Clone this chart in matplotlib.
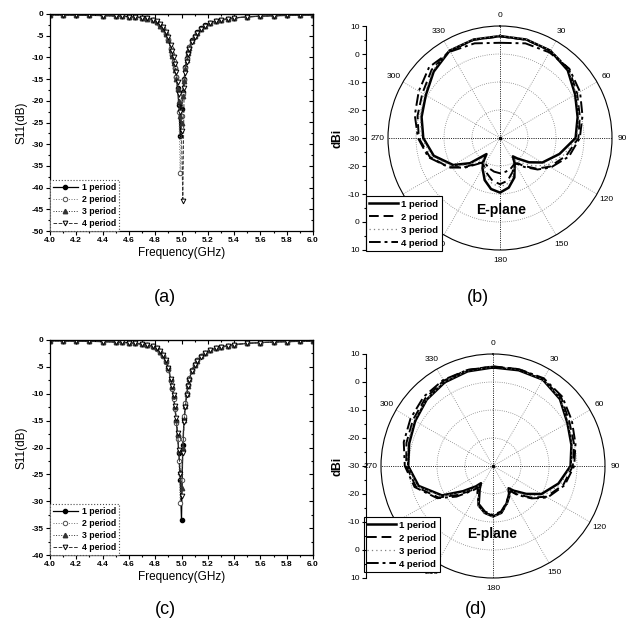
import matplotlib
matplotlib.use('Agg')
import matplotlib.pyplot as plt
import numpy as np
from matplotlib.ticker import MultipleLocator

plt.rcParams['font.family'] = ['Liberation Sans', 'DejaVu Sans']
plt.rcParams['axes.unicode_minus'] = False

W, H = 628, 636

labels = ['1 period', '2 period', '3 period', '4 period']

# ---- S11 data (GHz, dB) ----
freq = [4.0, 4.1, 4.2, 4.3, 4.4, 4.5, 4.55, 4.6, 4.65, 4.7, 4.74, 4.78, 4.81, 4.84, 4.86, 4.88,
        4.9, 4.92, 4.93, 4.94, 4.95, 4.96, 4.97, 4.98, 4.99, 5.0, 5.01, 5.02, 5.03, 5.04, 5.05, 5.06,
        5.08, 5.1, 5.12, 5.15, 5.18, 5.22, 5.26, 5.3, 5.35, 5.4, 5.5, 5.6, 5.7, 5.8, 5.9, 6.0]

a_p1 = [-0.20, -0.22, -0.25, -0.30, -0.36, -0.45, -0.52, -0.60, -0.70, -0.85, -1.00, -1.40, -1.80, -2.60, -3.40, -4.50,
        -6.00, -8.00, -9.50, -11.0, -12.5, -14.5, -17.0, -21.0, -28.0, -22.0, -18.0, -15.0, -12.3, -10.2, -8.7, -7.6,
        -6.1, -5.0, -4.2, -3.3, -2.6, -2.0, -1.6, -1.35, -1.10, -0.90, -0.65, -0.50, -0.40, -0.32, -0.27, -0.23]
a_p2 = [-0.18, -0.20, -0.24, -0.28, -0.34, -0.43, -0.50, -0.58, -0.68, -0.82, -0.98, -1.35, -1.75, -2.50, -3.30, -4.40,
        -5.80, -7.80, -9.30, -10.8, -12.4, -14.6, -17.5, -22.5, -36.7, -23.5, -18.5, -15.3, -12.5, -10.4, -8.9, -7.7,
        -6.2, -5.1, -4.3, -3.4, -2.7, -2.05, -1.65, -1.40, -1.12, -0.92, -0.66, -0.51, -0.41, -0.33, -0.28, -0.24]
a_p3 = [-0.22, -0.24, -0.27, -0.32, -0.38, -0.47, -0.54, -0.63, -0.74, -0.88, -1.05, -1.45, -1.85, -2.65, -3.50, -4.60,
        -6.10, -8.20, -9.70, -11.3, -12.9, -14.9, -17.3, -20.0, -23.5, -25.0, -19.0, -15.5, -12.7, -10.5, -8.9, -7.8,
        -6.2, -5.1, -4.3, -3.35, -2.65, -2.05, -1.62, -1.37, -1.12, -0.92, -0.66, -0.51, -0.41, -0.33, -0.28, -0.24]
a_p4 = [-0.19, -0.21, -0.24, -0.29, -0.35, -0.44, -0.50, -0.58, -0.68, -0.82, -0.96, -1.30, -1.70, -2.40, -3.10, -4.10,
        -5.40, -7.20, -8.50, -10.0, -11.5, -13.3, -15.6, -18.5, -22.5, -27.0, -43.2, -17.0, -13.5, -11.0, -9.3, -8.1,
        -6.4, -5.3, -4.4, -3.5, -2.75, -2.1, -1.7, -1.42, -1.15, -0.95, -0.68, -0.52, -0.42, -0.34, -0.28, -0.24]

c_p1 = [-0.15, -0.17, -0.20, -0.24, -0.30, -0.38, -0.44, -0.52, -0.62, -0.78, -0.95, -1.20, -1.55, -2.20, -2.90, -3.90,
        -5.30, -7.50, -8.90, -10.6, -12.6, -15.0, -17.8, -21.0, -26.0, -33.5, -19.5, -14.5, -12.0, -10.0, -8.4, -7.2,
        -5.6, -4.6, -3.8, -3.0, -2.4, -1.9, -1.55, -1.30, -1.05, -0.85, -0.62, -0.48, -0.38, -0.30, -0.25, -0.22]
c_p2 = [-0.16, -0.18, -0.21, -0.25, -0.31, -0.39, -0.45, -0.53, -0.63, -0.80, -0.97, -1.25, -1.60, -2.30, -3.00, -4.00,
        -5.50, -7.70, -9.10, -10.9, -12.9, -15.4, -18.5, -22.5, -30.3, -26.0, -18.5, -14.2, -11.8, -9.9, -8.3, -7.1,
        -5.5, -4.5, -3.75, -2.95, -2.35, -1.85, -1.52, -1.28, -1.03, -0.84, -0.61, -0.47, -0.37, -0.30, -0.25, -0.22]
c_p3 = [-0.15, -0.17, -0.20, -0.24, -0.30, -0.38, -0.44, -0.52, -0.62, -0.78, -0.94, -1.18, -1.52, -2.15, -2.85, -3.85,
        -5.20, -7.30, -8.70, -10.4, -12.4, -14.8, -17.5, -20.5, -24.5, -27.5, -20.0, -14.8, -12.2, -10.1, -8.5, -7.3,
        -5.7, -4.65, -3.85, -3.05, -2.45, -1.92, -1.57, -1.32, -1.06, -0.86, -0.63, -0.48, -0.38, -0.30, -0.25, -0.22]
c_p4 = [-0.14, -0.16, -0.19, -0.23, -0.29, -0.37, -0.43, -0.51, -0.61, -0.76, -0.93, -1.17, -1.50, -2.12, -2.80, -3.80,
        -5.15, -7.25, -8.65, -10.3, -12.3, -14.6, -17.3, -20.5, -25.0, -29.0, -21.0, -15.2, -12.4, -10.3, -8.6, -7.4,
        -5.8, -4.7, -3.9, -3.1, -2.45, -1.95, -1.58, -1.33, -1.07, -0.87, -0.63, -0.49, -0.39, -0.31, -0.26, -0.23]

# ---- E-plane patterns (deg, dBi) ----
angles = [0, 15, 30, 45, 60, 75, 90, 105, 120, 130, 140, 145, 150, 160, 170, 180,
          190, 200, 210, 215, 220, 230, 240, 255, 270, 285, 300, 315, 330, 345, 360]

b_p1 = [6.4, 6.4, 6.0, 4.2, 1.0, -1.3, -3.0, -8.0, -12.5, -16.5, -20.5, -22.0, -19.5, -15.0, -12.0, -10.5,
        -11.5, -14.0, -17.5, -19.5, -22.5, -16.0, -10.7, -5.5, -2.6, -1.0, 0.6, 3.5, 6.0, 6.4, 6.4]
b_p2 = [6.3, 6.3, 6.0, 4.8, 1.8, -0.5, -2.0, -5.5, -9.5, -13.0, -17.0, -19.0, -19.5, -17.0, -14.5, -13.5,
        -14.5, -16.5, -18.5, -19.0, -18.5, -14.0, -9.0, -4.0, -1.0, 0.5, 2.0, 4.5, 6.0, 6.3, 6.3]
b_p3 = [6.6, 6.5, 6.2, 4.6, 1.5, -0.8, -2.5, -6.5, -10.5, -14.5, -18.5, -20.5, -20.0, -16.0, -13.5, -12.5,
        -13.5, -15.5, -18.5, -20.0, -20.5, -15.0, -10.0, -4.8, -2.0, -0.5, 1.2, 4.0, 6.2, 6.5, 6.6]
b_p4 = [4.0, 5.0, 5.3, 5.0, 3.0, 0.5, -1.5, -4.5, -9.0, -12.5, -16.5, -18.5, -19.5, -18.5, -17.8, -17.4,
        -17.8, -18.5, -19.5, -19.5, -18.0, -13.5, -9.0, -3.5, -0.7, 1.5, 3.5, 5.8, 5.6, 5.0, 4.0]

d_p1 = [5.2, 5.4, 5.6, 3.8, 0.7, -1.0, -2.3, -5.8, -10.0, -14.5, -18.5, -20.3, -18.5, -15.8, -13.0, -12.0,
        -13.0, -15.0, -20.5, -22.5, -20.5, -16.0, -9.0, -2.5, 0.3, 1.0, 2.1, 3.5, 4.5, 5.0, 5.2]
d_p2 = [5.6, 5.8, 5.8, 4.5, 1.5, 0.0, -1.5, -4.0, -8.0, -12.5, -17.0, -19.5, -18.0, -15.5, -13.0, -12.3,
        -13.0, -15.0, -19.0, -21.0, -19.0, -14.0, -7.5, -1.5, 1.0, 2.0, 3.0, 4.2, 5.2, 5.5, 5.6]
d_p3 = [5.4, 5.6, 5.7, 4.0, 1.0, -0.6, -2.0, -5.0, -9.0, -13.5, -17.5, -19.5, -18.0, -15.5, -12.8, -11.8,
        -12.8, -14.8, -19.5, -21.5, -19.5, -15.0, -8.5, -2.0, 0.6, 1.6, 2.5, 3.6, 4.7, 5.2, 5.4]
d_p4 = [5.5, 5.8, 6.2, 5.0, 2.5, 0.5, -1.0, -3.5, -7.5, -12.0, -16.5, -19.0, -18.5, -16.0, -13.5, -12.5,
        -13.5, -15.5, -19.0, -20.5, -18.5, -13.0, -7.0, -1.0, 1.5, 3.0, 4.0, 5.0, 5.5, 5.5, 5.5]

theta_ticks = list(range(0, 360, 30))
ring_levels = [-20, -10, 0]
dbi_ticks = [-40, -30, -20, -10, 0, 10, 20, 30, 40]
dbi_labels = ['10', '0', '-10', '-20', '-30', '-20', '-10', '0', '10']

s11_styles = [
    dict(color='k', lw=0.9, marker='o', ms=3.0),
    dict(color='0.45', lw=0.7, ls=':', marker='o', mfc='white', mec='0.3', ms=3.2, mew=0.7),
    dict(color='0.2', lw=0.7, ls=':', marker='^', ms=3.2),
    dict(color='0.2', lw=0.7, ls='--', marker='v', mfc='white', mec='k', ms=3.4, mew=0.7),
]
polar_styles = [
    dict(color='k', lw=1.8, ls='-'),
    dict(color='k', lw=1.4, dashes=(5, 2.5)),
    dict(color='0.5', lw=0.9, dashes=(1, 2.5)),
    dict(color='k', lw=1.4, dashes=(6, 2, 1.5, 2)),
]


def box(x0, y0, x1, y1):
    return [x0 / W, 1 - y1 / H, (x1 - x0) / W, (y1 - y0) / H]


fig = plt.figure(figsize=(W / 100, H / 100), dpi=100)


def s11_panel(rect, curves, ymin):
    ax = fig.add_axes(rect)
    for vals, lab, st in zip(curves, labels, s11_styles):
        ax.plot(freq, vals, label=lab, **st)
    ax.set_xlim(4.0, 6.0)
    ax.set_ylim(ymin, 0)
    xt = np.round(np.arange(4.0, 6.01, 0.2), 1)
    yt = np.arange(ymin, 1, 5)
    ax.set_xticks(xt, [f'{v:.1f}' for v in xt], fontweight='bold')
    ax.set_yticks(yt, [f'{v:d}' for v in yt], fontweight='bold')
    ax.xaxis.set_minor_locator(MultipleLocator(0.1))
    ax.yaxis.set_minor_locator(MultipleLocator(2.5))
    ax.tick_params(which='both', direction='out', labelsize=6, width=0.8, pad=1.5)
    ax.tick_params(which='major', length=3)
    ax.tick_params(which='minor', length=1.5)
    for s in ax.spines.values():
        s.set_linewidth(0.9)
    top = ax.secondary_xaxis('top')
    top.set_xticks(xt, [])
    top.xaxis.set_minor_locator(MultipleLocator(0.1))
    top.tick_params(which='both', direction='in', width=0.8)
    top.tick_params(which='minor', length=1.5)
    top.tick_params(which='major', length=3)
    right = ax.secondary_yaxis('right')
    right.set_yticks(yt, [])
    right.yaxis.set_minor_locator(MultipleLocator(2.5))
    right.tick_params(which='both', direction='in', width=0.8)
    right.tick_params(which='minor', length=1.5)
    right.tick_params(which='major', length=3)
    ax.set_xlabel('Frequency(GHz)', fontsize=8.5, labelpad=2)
    ax.set_ylabel('S11(dB)', fontsize=8.5, labelpad=3)
    leg = ax.legend(loc='lower left', bbox_to_anchor=(0, 0), borderaxespad=0,
                    prop={'size': 6.3, 'weight': 'bold'}, handlelength=2.8, numpoints=1,
                    fancybox=False, edgecolor='0.3', framealpha=1, borderpad=0.35,
                    labelspacing=0.35, handletextpad=0.5)
    leg.get_frame().set_linestyle(':')
    leg.get_frame().set_linewidth(0.8)
    return ax


def polar_panel(rect, axis_x, series, legend_xy, eplane_xy):
    ax = fig.add_axes(rect, projection='polar')
    ax.set_theta_zero_location('N')
    ax.set_theta_direction(-1)
    th = np.deg2rad(angles)
    for vals, lab, st in zip(series, labels, polar_styles):
        ax.plot(th, vals, label=lab, **st)
    ax.set_ylim(-30, 10)
    ax.set_yticks(ring_levels)
    ax.set_yticklabels([])
    ax.set_thetagrids(theta_ticks, [str(t) for t in theta_ticks], fontsize=6)
    ax.tick_params(axis='x', pad=-3)
    ax.grid(True, color='0.5', ls=':', lw=0.6)
    for t in (0, 90, 180, 270):
        ax.axvline(np.deg2rad(t), color='k', ls=':', lw=0.6)
    ax.spines['polar'].set_linewidth(0.8)
    ax.plot([0], [-30], 'k.', ms=3)

    axd = fig.add_axes([axis_x / W, rect[1], 0.0001, rect[3]])
    axd.patch.set_visible(False)
    for side in ('right', 'top', 'bottom'):
        axd.spines[side].set_visible(False)
    axd.spines['left'].set_linewidth(0.8)
    axd.set_ylim(-40, 40)
    axd.set_xticks([])
    axd.set_yticks(dbi_ticks, dbi_labels)
    axd.yaxis.set_minor_locator(MultipleLocator(5))
    axd.tick_params(which='both', direction='out', labelsize=6, width=0.8, pad=1.5)
    axd.tick_params(which='major', length=3)
    axd.tick_params(which='minor', length=1.5)
    axd.set_ylabel('dBi', fontsize=8.5, fontweight='bold', labelpad=3)

    leg = ax.legend(loc='lower left', bbox_to_anchor=(legend_xy[0] / W, 1 - legend_xy[1] / H),
                    bbox_transform=fig.transFigure, borderaxespad=0, fancybox=False,
                    edgecolor='k', framealpha=1, prop={'size': 6.8, 'weight': 'bold'},
                    handlelength=3.0, borderpad=0.35, labelspacing=0.42, handletextpad=0.4)
    leg.get_frame().set_linewidth(0.8)
    fig.text(eplane_xy[0] / W, 1 - eplane_xy[1] / H, 'E-plane', ha='center', va='center',
             fontsize=10, fontweight='bold')
    return ax


s11_panel(box(50, 14, 313, 231), [a_p1, a_p2, a_p3, a_p4], -50)
s11_panel(box(50, 340, 313, 555), [c_p1, c_p2, c_p3, c_p4], -40)
polar_panel(box(388, 26, 612, 250), 366, [b_p1, b_p2, b_p3, b_p4], (366, 251), (501, 210))
polar_panel(box(381, 354, 605, 578), 366, [d_p1, d_p2, d_p3, d_p4], (364, 572), (492, 534))

for txt, x, y in [('(a)', 165, 297), ('(b)', 478, 297), ('(c)', 165, 610), ('(d)', 476, 610)]:
    fig.text(x / W, 1 - y / H, txt, ha='center', va='center', fontsize=13)

fig.savefig('out.png', dpi=100)
